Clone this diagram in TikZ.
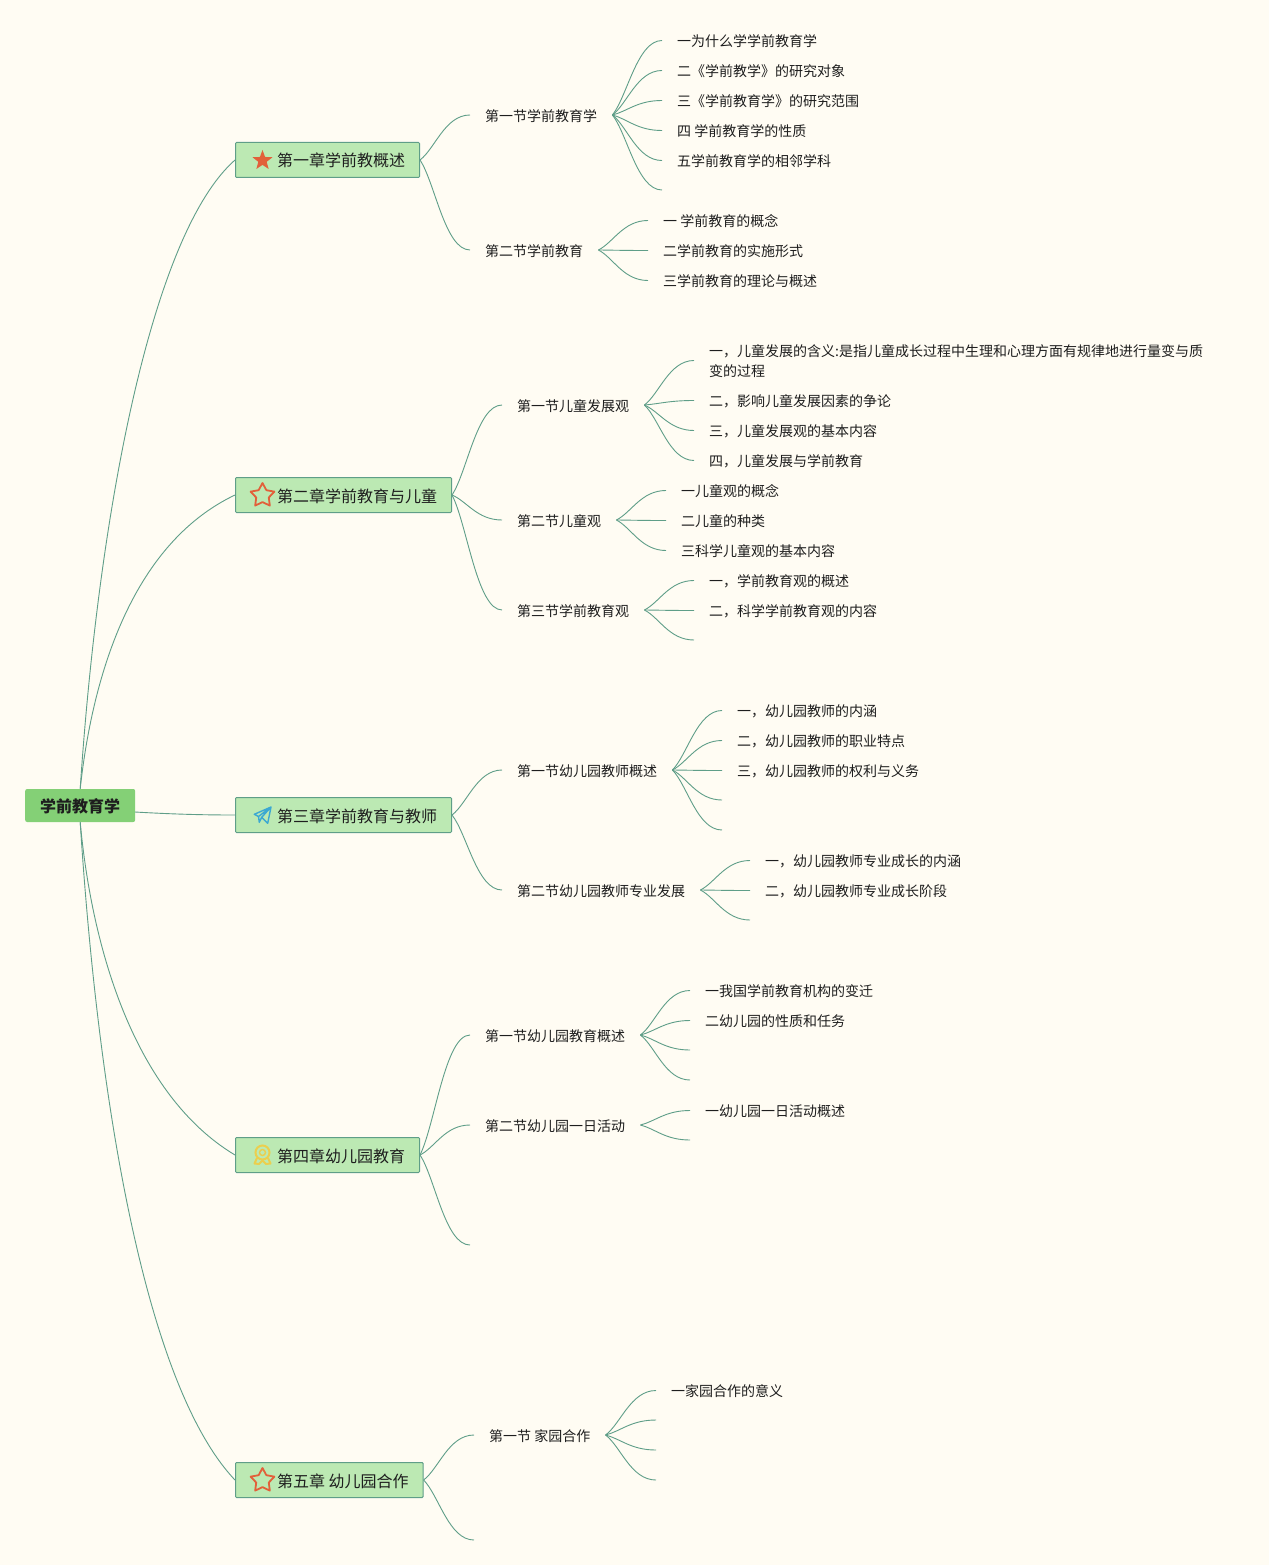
\documentclass[tikz,border=0pt]{standalone}
\usepackage{fontspec}
\setmainfont{Noto Sans CJK SC}
\usepackage{tikz}
\usetikzlibrary{calc,shapes.geometric}
\definecolor{paper}{HTML}{FFFCF3}
\definecolor{wire}{HTML}{5F9E88}
\definecolor{rootgreen}{HTML}{84D076}
\definecolor{chapgreen}{HTML}{BCE9B3}
\definecolor{starred}{HTML}{E2603A}
\definecolor{planeblue}{HTML}{3BA8D2}
\definecolor{medalgold}{HTML}{EBCF4E}
\definecolor{inkblack}{HTML}{1E1E1E}

\begin{document}
\begin{tikzpicture}[x=1pt,y=-1pt,
    every node/.style={text=inkblack},
    rootbox/.style={rectangle,rounded corners=2pt,fill=rootgreen,anchor=west,minimum width=110pt,minimum height=33pt,inner sep=0pt,text height=16pt,text depth=2pt,font=\fontsize{16}{20}\selectfont\bfseries},
    chapbox/.style={rectangle,rounded corners=1pt,draw=wire,line width=1pt,fill=chapgreen,anchor=west,minimum height=35pt,inner xsep=14.5pt,inner ysep=0pt,text height=16pt,text depth=2pt,font=\fontsize{16}{20}\selectfont},
    secbox/.style={anchor=west,inner xsep=15pt,inner ysep=2pt,text height=15pt,text depth=1.4pt,font=\fontsize{14}{20}\selectfont},
    leafbox/.style={anchor=west,inner xsep=15pt,inner ysep=2pt,align=left,text height=14pt,text depth=1.4pt,font=\fontsize{14}{20}\selectfont},
    link/.style={wire,line width=0.9pt,to path={let \p1=(\tikztostart),\p2=(\tikztotarget) in
        .. controls (\x1+.3*\x2-.3*\x1,\y1+.25*\y2-.25*\y1) and (\x1+.5*\x2-.5*\x1,\y2) .. (\tikztotarget)}},
    rootlink/.style={wire,line width=0.9pt},
    fullstar/.style={star,star points=5,star point ratio=2.4,inner sep=0pt,minimum size=21pt,fill=starred,draw=none},
    openstar/.style={star,star points=5,star point ratio=1.9,inner sep=0pt,minimum size=25pt,draw=starred,line width=1.8pt,line join=round},
    ]
\useasboundingbox (0,0) rectangle (1269,1565);
\fill[paper] (0,0) rectangle (1269,1565);

% root and chapters
\node[rootbox] (root) at (25,805.5) {学前教育学};
\coordinate (rootr) at (135,812);
\node[chapbox] (ch1) at (235,160) {\hspace*{27pt}第一章学前教概述};
\node[chapbox] (ch2) at (235,495) {\hspace*{27pt}第二章学前教育与儿童};
\node[chapbox] (ch3) at (235,815) {\hspace*{27pt}第三章学前教育与教师};
\node[chapbox] (ch4) at (235,1155) {\hspace*{27pt}第四章幼儿园教育};
\node[chapbox] (ch5) at (235,1480) {\hspace*{27pt}第五章 幼儿园合作};

% icons
\node[fullstar] (icon1) at (262.5,160.5) {};
\node[openstar] (icon2) at (262.5,495.5) {};
\node[openstar] (icon5) at (262.5,1480.5) {};
\draw[planeblue,line width=1.4pt,line join=round] (254.3,814.3) -- (271,807) -- (267.7,823.3) -- (261.7,817.3) -- (259.3,822.3) -- (258.5,816.5) -- cycle (258.5,816.5) -- (271,807) -- (261.7,817.3);
\node[circle,draw=medalgold,line width=2pt,minimum size=14pt,inner sep=0pt] (icon4) at (262.5,1152.5) {};
\node[circle,draw=medalgold,line width=1.4pt,minimum size=6pt,inner sep=0pt] (icon4c) at (262.5,1152.5) {};
\draw[medalgold,line width=2pt,line join=round] (257,1158) -- (254.5,1163.5) -- (259,1164) -- (262.5,1160.5) -- (266,1164) -- (270.5,1163.5) -- (268,1158);

% chapter 1
\node[secbox] (s11) at (470,115) {第一节学前教育学};
\node[secbox] (s12) at (470,250) {第二节学前教育};
\node[leafbox] (l111) at (662,40.5) {一为什么学学前教育学};
\node[leafbox] (l112) at (662,70.5) {二《学前教学》的研究对象};
\node[leafbox] (l113) at (662,100.5) {三《学前教育学》的研究范围};
\node[leafbox] (l114) at (662,130.5) {四 学前教育学的性质};
\node[leafbox] (l115) at (662,160.5) {五学前教育学的相邻学科};
\coordinate (e116) at (662,190);
\node[leafbox] (l121) at (648,220.5) {一 学前教育的概念};
\node[leafbox] (l122) at (648,250.5) {二学前教育的实施形式};
\node[leafbox] (l123) at (648,280.5) {三学前教育的理论与概述};

% chapter 2
\node[secbox] (s21) at (502,405) {第一节儿童发展观};
\node[secbox] (s22) at (502,520) {第二节儿童观};
\node[secbox] (s23) at (502,610) {第三节学前教育观};
\node[leafbox,text height=33pt] (l211) at (694,360.5) {一，儿童发展的含义:是指儿童成长过程中生理和心理方面有规律地进行量变与质\\变的过程};
\node[leafbox] (l212) at (694,400.5) {二，影响儿童发展因素的争论};
\node[leafbox] (l213) at (694,430.5) {三，儿童发展观的基本内容};
\node[leafbox] (l214) at (694,460.5) {四，儿童发展与学前教育};
\node[leafbox] (l221) at (666,490.5) {一儿童观的概念};
\node[leafbox] (l222) at (666,520.5) {二儿童的种类};
\node[leafbox] (l223) at (666,550.5) {三科学儿童观的基本内容};
\node[leafbox] (l231) at (694,580.5) {一，学前教育观的概述};
\node[leafbox] (l232) at (694,610.5) {二，科学学前教育观的内容};
\coordinate (e233) at (694,640);

% chapter 3
\node[secbox] (s31) at (502,770) {第一节幼儿园教师概述};
\node[secbox] (s32) at (502,890) {第二节幼儿园教师专业发展};
\node[leafbox] (l311) at (722,710.5) {一，幼儿园教师的内涵};
\node[leafbox] (l312) at (722,740.5) {二，幼儿园教师的职业特点};
\node[leafbox] (l313) at (722,770.5) {三，幼儿园教师的权利与义务};
\coordinate (e314) at (722,800);
\coordinate (e315) at (722,830);
\node[leafbox] (l321) at (750,860.5) {一，幼儿园教师专业成长的内涵};
\node[leafbox] (l322) at (750,890.5) {二，幼儿园教师专业成长阶段};
\coordinate (e323) at (750,920);

% chapter 4
\node[secbox] (s41) at (470,1035) {第一节幼儿园教育概述};
\node[secbox] (s42) at (470,1125) {第二节幼儿园一日活动};
\coordinate (e43) at (470,1245);
\node[leafbox] (l411) at (690,990.5) {一我国学前教育机构的变迁};
\node[leafbox] (l412) at (690,1020.5) {二幼儿园的性质和任务};
\coordinate (e413) at (690,1050);
\coordinate (e414) at (690,1080);
\node[leafbox] (l421) at (690,1110.5) {一幼儿园一日活动概述};
\coordinate (e422) at (690,1140);

% chapter 5
\node[secbox] (s51) at (474,1435) {第一节 家园合作};
\coordinate (e52) at (474,1540);
\node[leafbox] (l511) at (656,1390.5) {一家园合作的意义};
\coordinate (e512) at (656,1420);
\coordinate (e513) at (656,1450);
\coordinate (e514) at (656,1480);

% connectors
\draw[rootlink] (root.north) .. controls (98,520) and (150,235) .. (ch1.west);
\draw[rootlink] (root.north) .. controls (92,680) and (130,545) .. (ch2.west);
\draw[rootlink] (rootr) .. controls (170,814) and (200,815) .. (ch3.west);
\draw[rootlink] (root.south) .. controls (92,950) and (135,1095) .. (ch4.west);
\draw[rootlink] (root.south) .. controls (98,1100) and (145,1385) .. (ch5.west);

\foreach \from/\kids in {ch1/{s11.west,s12.west},
    ch2/{s21.west,s22.west,s23.west},
    ch3/{s31.west,s32.west},
    ch4/{s41.west,s42.west,e43},
    ch5/{s51.west,e52},
    s11/{l111.west,l112.west,l113.west,l114.west,l115.west,e116},
    s12/{l121.west,l122.west,l123.west},
    s21/{l211.west,l212.west,l213.west,l214.west},
    s22/{l221.west,l222.west,l223.west},
    s23/{l231.west,l232.west,e233},
    s31/{l311.west,l312.west,l313.west,e314,e315},
    s32/{l321.west,l322.west,e323},
    s41/{l411.west,l412.west,e413,e414},
    s42/{l421.west,e422},
    s51/{l511.west,e512,e513,e514}}
  \foreach \kid in \kids
    \draw[link] (\from.east) to (\kid);
\end{tikzpicture}
\end{document}
